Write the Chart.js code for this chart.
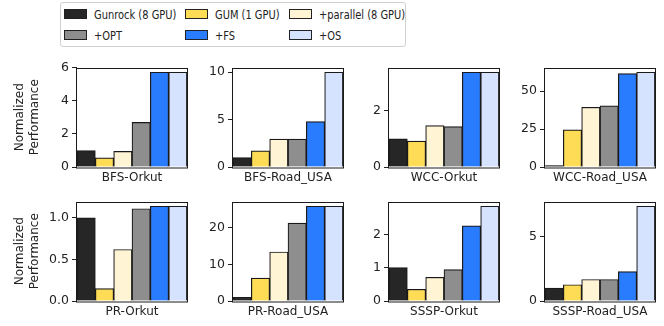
<!DOCTYPE html>
<html>
<head>
<meta charset="utf-8">
<script src="https://cdn.jsdelivr.net/npm/chart.js@4/dist/chart.umd.min.js"></script>
<style>
  html, body { margin: 0; padding: 0; background: #fff; }
  body { width: 664px; height: 326px; position: relative; overflow: hidden; font-family: "DejaVu Sans", sans-serif; }
  canvas { position: absolute; }
  #legend { position: absolute; left: 60px; top: 2px; width: 346px; height: 45px; border: 1px solid #d0d0d0; border-radius: 3px; box-sizing: border-box; }
  .item { position: absolute; height: 16px; display: flex; align-items: center; font-size: 13px; color: #222; white-space: nowrap; }
  .sw { width: 21px; height: 8px; border: 1px solid #222; margin-right: 7px; flex: none; }
  .lbl { display: inline-block; transform: scaleX(0.76); transform-origin: left center; }
</style>
</head>
<body>
<div id="legend"></div>
<script>
// ---------- data ----------
const seriesNames = ["Gunrock (8 GPU)", "GUM (1 GPU)", "+parallel (8 GPU)", "+OPT", "+FS", "+OS"];
const seriesColors = ["#262626", "#FFDC55", "#FFF5D5", "#8E8E8E", "#2A7CFF", "#D5E3FF"];
const panelTitles = ["BFS-Orkut", "BFS-Road_USA", "WCC-Orkut", "WCC-Road_USA",
                     "PR-Orkut", "PR-Road_USA", "SSSP-Orkut", "SSSP-Road_USA"];
const bfsOrkut    = [1.0, 0.55, 0.94, 2.7, 5.73, 5.73];
const bfsRoadUSA  = [1.0, 1.7, 2.95, 2.95, 4.8, 10.0];
const wccOrkut    = [1.0, 0.92, 1.47, 1.43, 3.36, 3.36];
const wccRoadUSA  = [1.0, 24.4, 39.3, 40.2, 61.5, 62.4];
const prOrkut     = [1.0, 0.15, 0.62, 1.11, 1.14, 1.14];
const prRoadUSA   = [1.0, 6.25, 13.4, 21.3, 25.9, 25.9];
const ssspOrkut   = [1.0, 0.35, 0.71, 0.94, 2.25, 2.84];
const ssspRoadUSA = [1.0, 1.27, 1.68, 1.68, 2.3, 7.4];
const panelValues = [bfsOrkut, bfsRoadUSA, wccOrkut, wccRoadUSA, prOrkut, prRoadUSA, ssspOrkut, ssspRoadUSA];
const tickSteps    = [2, 5, 2, 25, 0.5, 10, 1, 5];
const tickDecimals = [0, 0, 0, 0, 1, 0, 0, 0];
const yAxisTitle = ["Normalized", "Performance"];

// ---------- legend ----------
const legendPos = [
  [3, 3], [124, 3], [228, 3],
  [3, 24], [124, 24], [228, 24]
];
const legend = document.getElementById('legend');
seriesNames.forEach((name, i) => {
  const it = document.createElement('div');
  it.className = 'item';
  it.style.left = legendPos[i][0] + 'px';
  it.style.top = legendPos[i][1] + 'px';
  const sw = document.createElement('span');
  sw.className = 'sw';
  sw.style.background = seriesColors[i];
  const lb = document.createElement('span');
  lb.className = 'lbl';
  lb.textContent = name;
  it.appendChild(sw); it.appendChild(lb);
  legend.appendChild(it);
});

// ---------- layout ----------
const plotLefts = [77, 233, 389, 545];
const plotTops = [65, 199];
const plotW = 110, plotH = 102, padTop = 8, padRight = 4, xAxisH = 24;

const framePlugin = {
  id: 'frame',
  afterDraw(chart) {
    const {ctx, chartArea: a} = chart;
    ctx.save();
    ctx.strokeStyle = '#1a1a1a';
    ctx.lineWidth = 1;
    ctx.strokeRect(Math.round(a.left) - 0.5, Math.round(a.top) + 0.5, Math.round(a.right - a.left) + 1, Math.round(a.bottom - a.top) - 0.5);
    ctx.restore();
  }
};

panelValues.forEach((vals, p) => {
  const col = p % 4, row = Math.floor(p / 4);
  const yW = col === 0 ? 77 : 40;
  const cv = document.createElement('canvas');
  const w = yW + plotW + padRight, h = padTop + plotH + xAxisH;
  cv.width = w; cv.height = h;
  cv.style.width = w + 'px'; cv.style.height = h + 'px';
  cv.style.left = (plotLefts[col] - yW) + 'px';
  cv.style.top = (plotTops[row] - padTop) + 'px';
  document.body.appendChild(cv);
  const dec = tickDecimals[p];
  new Chart(cv, {
    type: 'bar',
    data: {
      labels: seriesNames,
      datasets: [{
        data: vals,
        backgroundColor: seriesColors,
        borderColor: '#1a1a1a',
        borderWidth: 1.2,
        categoryPercentage: 1.0,
        barPercentage: 1.0
      }]
    },
    options: {
      responsive: false,
      animation: false,
      devicePixelRatio: 1,
      layout: { padding: { top: padTop, right: padRight, left: 0, bottom: 0 } },
      plugins: { legend: { display: false }, tooltip: { enabled: false } },
      scales: {
        x: {
          type: 'category',
          grid: { display: false },
          border: { display: false },
          ticks: { display: false },
          title: {
            display: true, text: panelTitles[p], color: '#222',
            font: { family: 'DejaVu Sans', size: 12 },
            padding: { top: 0, bottom: 6 }
          },
          afterFit(s) { s.height = xAxisH; }
        },
        y: {
          min: 0,
          max: Math.max(...vals) * 1.05,
          grid: { display: true, drawOnChartArea: false, drawTicks: true, tickLength: 5, color: '#222', lineWidth: 1 },
          border: { display: false },
          ticks: {
            stepSize: tickSteps[p], includeBounds: false, padding: 3, color: '#222',
            font: { family: 'DejaVu Sans', size: 12.5 },
            callback: (v) => Number(v).toFixed(dec)
          },
          title: {
            display: col === 0, text: yAxisTitle, color: '#222',
            font: { family: 'DejaVu Sans', size: 12, lineHeight: 1.25 },
            padding: { top: 12.5, bottom: 0 }
          },
          afterFit(s) { s.width = yW; }
        }
      }
    },
    plugins: [framePlugin]
  });
});
</script>
</body>
</html>
